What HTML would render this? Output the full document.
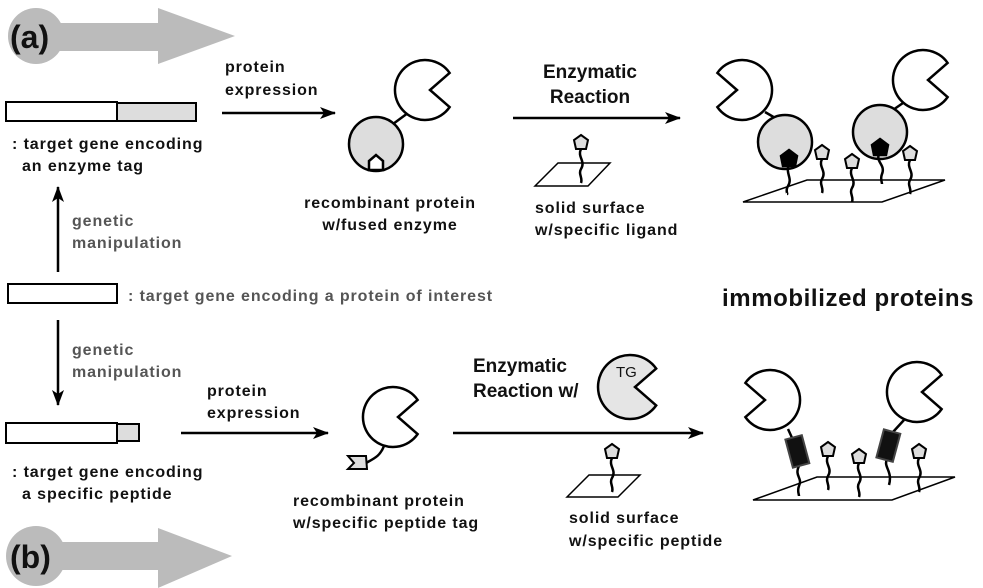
<!DOCTYPE html>
<html><head><meta charset="utf-8"><style>
html,body{margin:0;padding:0;background:#fff}
svg{display:block}
text{font-family:"Liberation Sans",sans-serif;font-weight:bold;font-size:16px;letter-spacing:0.9px;fill:#111}
.g{fill:#555}
.e{font-size:19px;letter-spacing:0}
</style></head><body>
<svg width="983" height="588" viewBox="0 0 983 588" xmlns="http://www.w3.org/2000/svg">
<defs>
<marker id="ah" markerWidth="16" markerHeight="12" refX="15" refY="6" orient="auto" markerUnits="userSpaceOnUse"><path d="M0,0 L16,6 L0,12 L4,6Z" fill="#000"/></marker>
<g id="lig"><path d="M0,6 c-4,8 5,12 0,20 c-3,5 2,9 0,14" fill="none" stroke="#000" stroke-width="2.5"/><polygon points="0,-8 7,-3 5,6 -5,6 -7,-3" fill="#ddd" stroke="#000" stroke-width="2"/></g>
</defs>
<g fill="#bbb"><circle cx="36" cy="36" r="28"/><rect x="36" y="23" width="126" height="28"/><polygon points="158,8 235,36 158,64"/>
<circle cx="36" cy="556" r="30"/><rect x="36" y="542" width="126" height="28"/><polygon points="158,528 232,556 158,588"/></g>
<text x="10" y="48" style="font-size:32px;letter-spacing:0">(a)</text>
<text x="10" y="568" style="font-size:32px;letter-spacing:0">(b)</text>
<g stroke="#000" stroke-width="2"><rect x="6" y="102" width="111" height="19" fill="#fff"/><rect x="117" y="103" width="79" height="18" fill="#ddd"/>
<rect x="8" y="284" width="109" height="19" fill="#fff"/>
<rect x="6" y="423" width="111" height="20" fill="#fff"/><rect x="117" y="424" width="22" height="17" fill="#ddd"/></g>
<text x="12" y="149">: target gene encoding</text><text x="22" y="171">an enzyme tag</text>
<text x="12" y="477">: target gene encoding</text><text x="22" y="499">a specific peptide</text>
<text x="128" y="301" class="g">: target gene encoding a protein of interest</text>
<text x="722" y="306" style="font-size:24px;letter-spacing:0.6px">immobilized proteins</text>
<g stroke="#000" stroke-width="2.5" marker-end="url(#ah)"><line x1="58" y1="272" x2="58" y2="187"/><line x1="58" y1="320" x2="58" y2="405"/>
<line x1="222" y1="113" x2="335" y2="113"/><line x1="513" y1="118" x2="680" y2="118"/>
<line x1="181" y1="433" x2="328" y2="433"/><line x1="453" y1="433" x2="703" y2="433"/></g>
<text x="72" y="226" class="g">genetic</text><text x="72" y="248" class="g">manipulation</text>
<text x="72" y="355" class="g">genetic</text><text x="72" y="377" class="g">manipulation</text>
<text x="225" y="72">protein</text><text x="225" y="95">expression</text>
<text x="207" y="396">protein</text><text x="207" y="418">expression</text>
<text x="590" y="78" text-anchor="middle" class="e">Enzymatic</text><text x="590" y="103" text-anchor="middle" class="e">Reaction</text>
<text x="473" y="372" class="e">Enzymatic</text><text x="473" y="397" class="e">Reaction w/</text>
<text x="390" y="208" text-anchor="middle">recombinant  protein</text><text x="390" y="230" text-anchor="middle">w/fused enzyme</text>
<text x="293" y="506">recombinant protein</text><text x="293" y="528">w/specific peptide tag</text>
<text x="535" y="213">solid surface</text><text x="535" y="235">w/specific ligand</text>
<text x="569" y="523">solid surface</text><text x="569" y="546">w/specific peptide</text>
<g stroke="#000" stroke-width="2.5" fill="#fff">
<path d="M393,124 L412,110" fill="none"/>
<path d="M449.6,72.9 A30,30 0 1 0 449.6,107.1 L430,90 Z"/>
<circle cx="376" cy="144" r="27" fill="#ddd"/>
<polygon points="369,170 369,161 376,155 383,161 383,170" fill="#fff"/>
<polygon points="535,186 558,163 610,163 588,186" fill="#fff" stroke-width="1.5"/>
<polygon points="567,497 589,475 640,475 618,497" fill="#fff" stroke-width="1.5"/>
<polygon points="743,202 807,180 945,180 882,202" fill="#fff" stroke-width="1.5"/>
<polygon points="753,500 817,477 955,477 892,500" fill="#fff" stroke-width="1.5"/>
<path d="M765,112 C775,118 777,118 779,124" fill="none"/>
<path d="M717.4,72.9 A30,30 0 1 1 717.4,107.1 L737,90 Z"/>
<path d="M890,112 L903,103" fill="none"/>
<path d="M947.6,62.9 A30,30 0 1 0 947.6,97.1 L928,80 Z"/>
<circle cx="785" cy="142" r="27" fill="#ddd"/>
<circle cx="880" cy="132" r="27" fill="#ddd"/>
<path d="M789,164 c-4,10 4,14 -1,22 c-3,5 0,8 -1,8" fill="none"/>
<path d="M880,152 c-6,10 6,12 2,22 c-2,5 0,8 0,10" fill="none"/>
<polygon points="789,150 797,156 795,166 783,166 781,156" fill="#000"/>
<polygon points="880,139 888,145 886,155 874,155 872,145" fill="#000"/>
<path d="M417.6,399.9 A30,30 0 1 0 417.6,434.1 L398,417 Z"/>
<path d="M384,446 C380,456 375,458 366,463" fill="none"/>
<polygon points="348,456 366,456 367,469 348,469 354,463" fill="#ddd" stroke-width="2"/>
<path d="M656.2,368.6 A32,32 0 1 0 656.2,405.4 L635,387 Z" fill="#e5e5e5"/>
<path d="M745.4,382.9 A30,30 0 1 1 745.4,417.1 L765,400 Z"/>
<path d="M941.6,374.9 A30,30 0 1 0 941.6,409.1 L922,392 Z"/>
<path d="M788,429 L793,440" fill="none"/><path d="M904,420 L893,432" fill="none"/>
<path d="M799,466 c-5,10 4,12 0,20 c-2,5 0,8 0,10" fill="none"/>
<path d="M887,459 c-4,8 6,12 2,26" fill="none"/>
</g>
<text x="616" y="377" style="font-size:15px;font-weight:normal;letter-spacing:0">TG</text>
<g stroke="#444" stroke-width="2" fill="#111">
<rect x="789" y="437" width="17" height="29" transform="rotate(-15 797 452)"/>
<rect x="880" y="431" width="17" height="29" transform="rotate(15 888 445)"/>
</g>
<use href="#lig" x="581" y="143"/>
<use href="#lig" x="612" y="452"/>
<use href="#lig" x="822" y="153"/><use href="#lig" x="852" y="162"/><use href="#lig" x="910" y="154"/>
<use href="#lig" x="828" y="450"/><use href="#lig" x="859" y="457"/><use href="#lig" x="919" y="452"/>
</svg>
</body></html>
